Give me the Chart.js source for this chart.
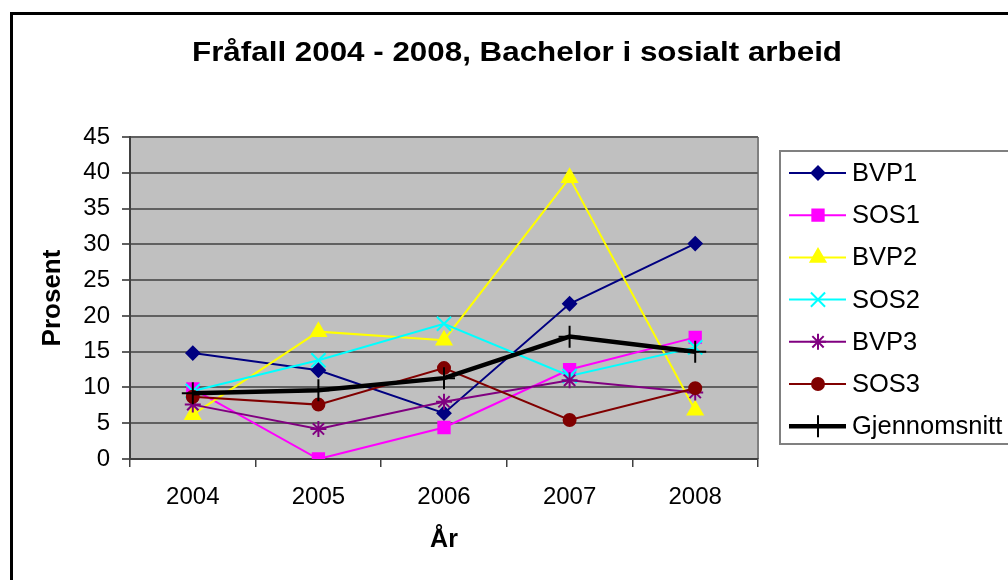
<!DOCTYPE html>
<html>
<head>
<meta charset="utf-8">
<script src="https://cdn.jsdelivr.net/npm/chart.js@4/dist/chart.umd.min.js"></script>
<style>
  html, body { margin: 0; padding: 0; background: #fff; }
  #wrap { position: relative; width: 1008px; height: 580px; }
</style>
</head>
<body>
<div id="wrap"><canvas id="chart" width="1008" height="580"></canvas></div>
<script>
// data
const years = ['2004', '2005', '2006', '2007', '2008'];
const bvp1 = [14.8, 12.4, 6.4, 21.7, 30.1];
const sos1 = [9.8, 0, 4.4, 12.5, 17.0];
const bvp2 = [6.2, 17.8, 16.6, 39.3, 6.8];
const sos2 = [9.5, 13.8, 18.9, 11.6, 15.6];
const bvp3 = [7.6, 4.2, 8.0, 11.0, 9.3];
const sos3 = [8.7, 7.6, 12.7, 5.45, 9.9];
const snitt = [9.2, 9.6, 11.3, 17.1, 15.0];
const yTicks = [0, 5, 10, 15, 20, 25, 30, 35, 40, 45];

const FONT = 'Arial, "Liberation Sans", sans-serif';

function serie(label, data, color, style, radius, width, idx) {
  return {
    label, data,
    borderColor: color,
    backgroundColor: color,
    borderWidth: width,
    pointStyle: style,
    pointRadius: radius,
    pointHoverRadius: radius,
    pointBorderWidth: 2,
    pointBackgroundColor: color,
    pointBorderColor: color,
    tension: 0,
    order: 6 - idx
  };
}

const datasets = [
  serie('BVP1', bvp1, '#000080', 'rectRot', 6.5, 2, 0),
  serie('SOS1', sos1, '#FF00FF', 'rect', 8, 2, 1),
  serie('BVP2', bvp2, '#FFFF00', 'triangle', 8.5, 2, 2),
  serie('SOS2', sos2, '#00FFFF', 'crossRot', 10, 2, 3),
  serie('BVP3', bvp3, '#800080', 'star', 8, 2, 4),
  serie('SOS3', sos3, '#800000', 'circle', 6, 2, 5),
  serie('Gjennomsnitt', snitt, '#000000', 'cross', 11, 4.5, 6)
];

// frame, plot background, title
const backdrop = {
  id: 'backdrop',
  beforeDraw(chart) {
    const { ctx, chartArea: a } = chart;
    ctx.save();
    ctx.fillStyle = '#C0C0C0';
    ctx.fillRect(a.left, a.top, a.right - a.left, a.bottom - a.top);
    ctx.strokeStyle = '#808080';
    ctx.lineWidth = 2;
    ctx.beginPath();
    ctx.moveTo(a.right, a.top);
    ctx.lineTo(a.right, a.bottom);
    ctx.stroke();
    ctx.restore();
  },
  afterDraw(chart) {
    const { ctx } = chart;
    ctx.save();
    ctx.strokeStyle = '#000';
    ctx.lineWidth = 3;
    ctx.strokeRect(11.5, 13.5, 1010, 580);
    // title, stretched a little to the reference's width
    const text = 'Fråfall 2004 - 2008, Bachelor i sosialt arbeid';
    ctx.fillStyle = '#000';
    ctx.font = 'bold 27px ' + FONT;
    ctx.textAlign = 'center';
    ctx.textBaseline = 'middle';
    const w = ctx.measureText(text).width;
    ctx.translate(517, 54);
    ctx.scale(650 / w, 1);
    ctx.fillText(text, 0, 0);
    ctx.restore();
  }
};

// legend box on the right, drawn from the datasets
const sideLegend = {
  id: 'sideLegend',
  afterDraw(chart) {
    const { ctx } = chart;
    const sets = chart.data.datasets;
    ctx.save();
    ctx.fillStyle = '#fff';
    ctx.fillRect(780, 151, 240, 293);
    ctx.strokeStyle = '#808080';
    ctx.lineWidth = 2;
    ctx.strokeRect(780, 151, 240, 293);
    sets.forEach((ds, i) => {
      const y = 173 + i * 42.2;
      ctx.strokeStyle = ds.borderColor;
      ctx.lineWidth = ds.borderWidth;
      ctx.beginPath();
      ctx.moveTo(789, y);
      ctx.lineTo(846, y);
      ctx.stroke();
      ctx.fillStyle = ds.pointBackgroundColor;
      ctx.strokeStyle = ds.pointBorderColor;
      ctx.lineWidth = ds.pointBorderWidth;
      Chart.helpers.drawPoint(ctx, {
        pointStyle: ds.pointStyle,
        radius: ds.pointRadius,
        rotation: 0,
        borderWidth: ds.pointBorderWidth
      }, 818, y);
      ctx.fillStyle = '#000';
      ctx.font = '25.5px ' + FONT;
      ctx.textAlign = 'left';
      ctx.textBaseline = 'middle';
      ctx.fillText(ds.label, 852, y + 1);
    });
    ctx.restore();
  }
};

new Chart(document.getElementById('chart'), {
  type: 'line',
  data: { labels: years, datasets },
  plugins: [backdrop, sideLegend],
  options: {
    responsive: false,
    animation: false,
    layout: { padding: { left: 0, top: 137, right: 250, bottom: 0 } },
    plugins: {
      legend: { display: false },
      title: { display: false },
      tooltip: { enabled: false }
    },
    scales: {
      x: {
        offset: true,
        grid: {
          offset: true,
          drawOnChartArea: false,
          drawTicks: true,
          tickLength: 8,
          color: '#404040',
          lineWidth: 1.5
        },
        border: { color: '#404040', width: 2 },
        ticks: { color: '#000', font: { family: FONT, size: 24 }, padding: 16 },
        title: {
          display: true,
          text: 'År',
          color: '#000',
          font: { family: FONT, size: 25, weight: 'bold' },
          padding: { top: 0, bottom: 25 }
        },
        afterFit(scale) { scale.height = 121; }
      },
      y: {
        min: 0,
        max: 45,
        afterBuildTicks(scale) { scale.ticks = yTicks.map(v => ({ value: v })); },
        grid: {
          color: '#606060',
          lineWidth: 2,
          tickLength: 8
        },
        border: { color: '#404040', width: 2 },
        ticks: { color: '#000', font: { family: FONT, size: 24 }, padding: 12 },
        title: {
          display: true,
          text: 'Prosent',
          color: '#000',
          font: { family: FONT, size: 26, weight: 'bold' },
          padding: { top: 37, bottom: 0 }
        },
        afterFit(scale) { scale.width = 130; }
      }
    }
  }
});
</script>
</body>
</html>
